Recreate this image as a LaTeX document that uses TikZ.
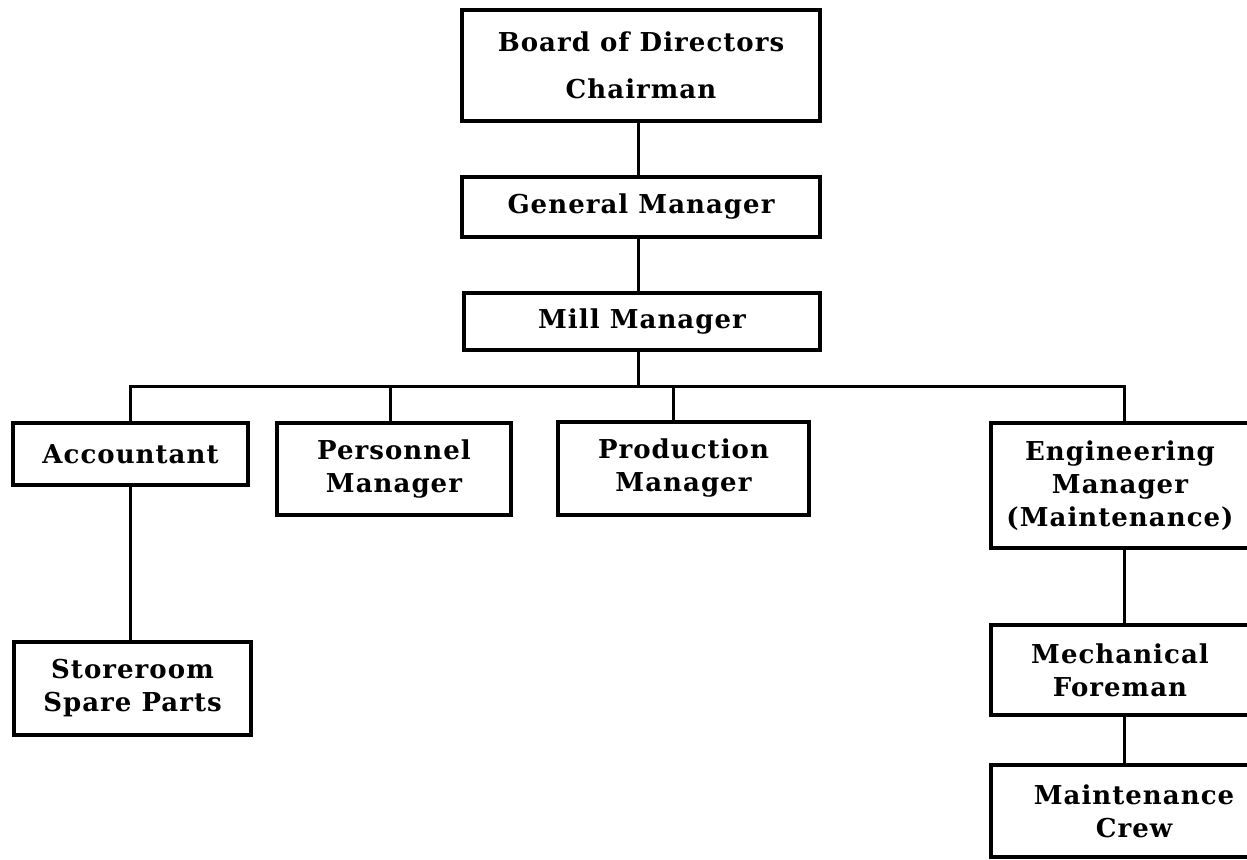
\documentclass[tikz,border=0pt]{standalone}
\usepackage{fontspec}
\setmainfont{DejaVu Serif}[LetterSpace=4]
\begin{document}
\begin{tikzpicture}[x=1pt,y=-1pt,
  box/.style={draw=black, line width=3.4pt, rectangle, inner sep=0pt, align=center,
    font=\fontsize{26}{33}\selectfont\bfseries},
  link/.style={draw=black, line width=3pt}]
\useasboundingbox[fill=white] (0,0) rectangle (1247,859);
% top chain
\node[box, minimum width=358pt, minimum height=111pt] (board) at (641,65.5) {Board of Directors\\[14pt]Chairman};
\node[box, minimum width=358pt, minimum height=60pt] (gm) at (641,207) {General Manager};
\node[box, minimum width=356pt, minimum height=57pt] (mill) at (642,321.5) {Mill Manager};
% second level
\node[box, minimum width=235pt, minimum height=62pt] (acct) at (130.5,454) {Accountant};
\node[box, minimum width=234pt, minimum height=92pt] (pers) at (394,469) {Personnel\\Manager};
\node[box, minimum width=251pt, minimum height=93pt] (prod) at (683.5,468.5) {Production\\Manager};
\node[box, minimum width=258pt, minimum height=125pt] (eng) at (1120,485.5) {Engineering\\Manager\\(Maintenance)};
% lower levels
\node[box, minimum width=237pt, minimum height=93pt] (stor) at (132.5,688.5) {Storeroom\\Spare Parts};
\node[box, minimum width=258pt, minimum height=90pt] (mech) at (1120,670) {Mechanical\\Foreman};
\node[box, minimum width=286pt, minimum height=92pt] (crew) at (1134,811) {Maintenance\\Crew};
% connectors
\coordinate (bus) at (638,386);
\draw[link] (board.south -| bus) -- (gm.north -| bus);
\draw[link] (gm.south -| bus) -- (mill.north -| bus);
\draw[link] (mill.south -| bus) -- (bus);
\draw[link] (acct.north) |- (bus) -| ([xshift=4pt]eng.north);
\draw[link] (pers.north -| 390,0) -- (390,386);
\draw[link] ([xshift=-10.5pt]prod.north) -- ([xshift=-10.5pt]prod.north |- bus);
\draw[link] (acct.south) -- (stor.north -| acct.south);
\draw[link] ([xshift=4pt]eng.south) -- ([xshift=4pt]mech.north);
\draw[link] ([xshift=4pt]mech.south) -- ([xshift=4pt]mech.south |- crew.north);
\end{tikzpicture}
\end{document}
